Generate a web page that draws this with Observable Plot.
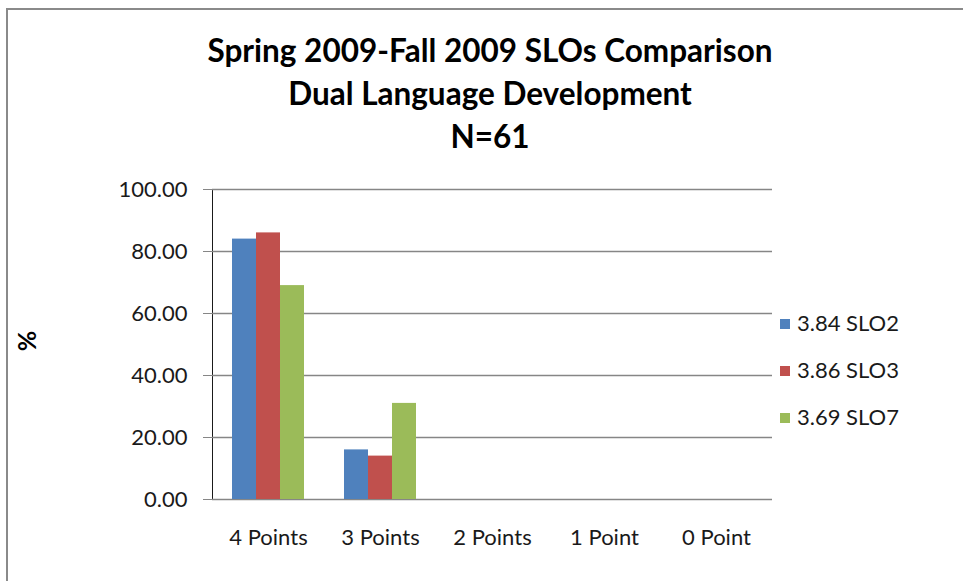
<!DOCTYPE html>
<html>
<head>
<meta charset="utf-8">
<script src="https://cdn.jsdelivr.net/npm/d3@7"></script>
<script src="https://cdn.jsdelivr.net/npm/@observablehq/plot@0.6"></script>
<style>
  html, body { margin: 0; padding: 0; background: #fff; overflow: hidden; width: 963px; height: 581px; }
  #frame { position: absolute; left: 6px; top: 8px; width: 1000px; height: 700px; border: 2px solid #8a8a8a; box-sizing: border-box; }
  #title { position: absolute; left: 0; top: 29px; width: 980px; text-align: center; font-family: Lato, "Open Sans", sans-serif; font-weight: bold; font-size: 31.5px; line-height: 43px; color: #000; }
  #chart { position: absolute; left: 0; top: 170px; }
  #ylabel { position: absolute; left: 16px; top: 326px; font-family: Lato, sans-serif; font-weight: bold; font-size: 25px; transform: rotate(-90deg); transform-origin: center; }
  .leg { position: absolute; left: 780px; font-family: Lato, "Open Sans", sans-serif; font-size: 22px; color: #1a1a1a; white-space: nowrap; }
  .sw { display: inline-block; width: 10px; height: 10px; margin-right: 7px; vertical-align: 2px; }
</style>
</head>
<body>
<div id="frame"></div>
<div id="title">Spring 2009-Fall 2009 SLOs Comparison<br>Dual Language Development<br>N=61</div>
<div id="ylabel">%</div>
<div id="chart"></div>
<div id="legend"></div>
<script>
const categories = ["4 Points", "3 Points", "2 Points", "1 Point", "0 Point"];
const series = ["SLO2", "SLO3", "SLO7"];
const means = [3.84, 3.86, 3.69];
const colors = ["#4F81BD", "#C0504D", "#9BBB59"];
const slo2 = [84, 16, 0, 0, 0];
const slo3 = [86, 14, 0, 0, 0];
const slo7 = [69, 31, 0, 0, 0];
const yTicks = [0, 20, 40, 60, 80, 100];

const valuesBySeries = [slo2, slo3, slo7];
const data = [];
categories.forEach((c, i) => {
  series.forEach((s, j) => data.push({category: c, series: s, value: valuesBySeries[j][i]}));
});

const chart = Plot.plot({
  width: 963,
  height: 390,
  marginLeft: 210,
  marginRight: 190,
  marginTop: 19,
  marginBottom: 61,
  style: {fontFamily: "Lato, 'Open Sans', sans-serif", fontSize: "22px", color: "#1a1a1a", background: "transparent"},
  fx: {domain: categories, padding: 0, label: null, tickSize: 0, tickPadding: 30},
  x: {domain: series, axis: null, paddingInner: 0, paddingOuter: 0.75},
  y: {domain: [0, 100], ticks: yTicks, tickFormat: d => d.toFixed(2), label: null, tickSize: 9, tickPadding: 16, line: true},
  color: {domain: series, range: colors},
  marks: [
    Plot.ruleY(yTicks, {stroke: "#868686", strokeWidth: 1.5, strokeOpacity: 1}),
    Plot.barY(data, {fx: "category", x: "series", y: "value", fill: "series", inset: 0})
  ]
});
chart.querySelectorAll("g[aria-label='y-axis tick'] path, g[aria-label='y-axis'] path, g[aria-label='y-axis'] line").forEach(e => e.setAttribute("stroke", "#868686"));
document.getElementById("chart").appendChild(chart);

const legend = document.getElementById("legend");
series.forEach((s, i) => {
  const d = document.createElement("div");
  d.className = "leg";
  d.style.top = (309 + i * 47) + "px";
  d.innerHTML = `<span class="sw" style="background:${colors[i]}"></span>${means[i].toFixed(2)} ${s}`;
  legend.appendChild(d);
});
</script>
</body>
</html>
